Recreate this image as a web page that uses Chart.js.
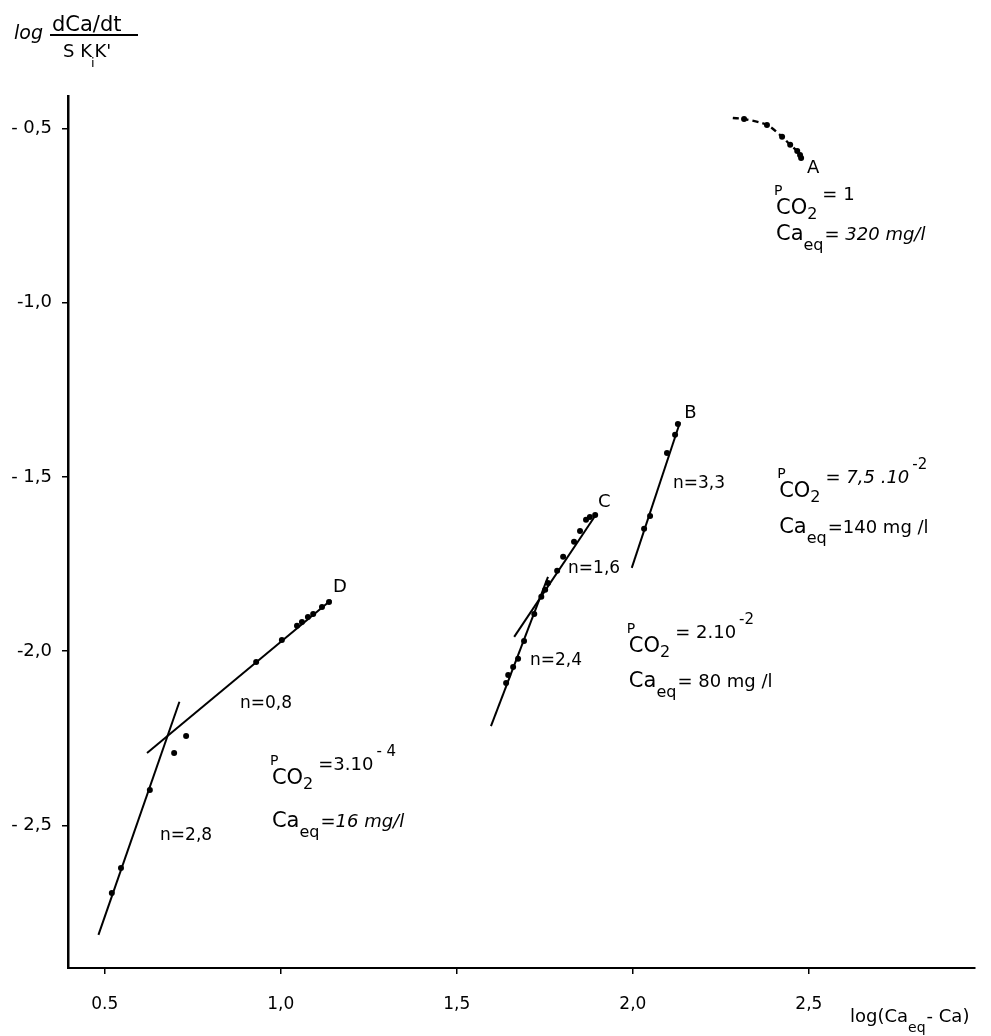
<!DOCTYPE html>
<html><head><meta charset="utf-8">
<script src="https://cdn.jsdelivr.net/npm/chart.js@4.4.0/dist/chart.umd.min.js"></script>
<style>html,body{margin:0;padding:0;background:#fff}#wrap{width:991px;height:1036px;position:relative}</style>
</head><body><div id="wrap"><canvas id="c" width="991" height="1036"></canvas></div>
<script>
// ---- data ----
const xTicks = [0.5, 1.0, 1.5, 2.0, 2.5];
const xTickLabels = ['0.5', '1,0', '1,5', '2,0', '2,5'];
const yTicks = [-0.5, -1.0, -1.5, -2.0, -2.5];
const yTickLabels = ['- 0,5', '-1,0', '- 1,5', '-2,0', '- 2,5'];

// curve A (PCO2 = 1): dashed curve and its points
const curveAx = [2.284, 2.316, 2.381, 2.424, 2.447, 2.467, 2.475, 2.478];
const curveAy = [-0.470, -0.473, -0.490, -0.524, -0.547, -0.565, -0.576, -0.585];
const pointsAx = [2.316, 2.381, 2.424, 2.447, 2.467, 2.475, 2.478];
const pointsAy = [-0.473, -0.490, -0.524, -0.547, -0.565, -0.576, -0.585];

// B (PCO2 = 7,5.10^-2)
const pointsBx = [2.128, 2.120, 2.097, 2.049, 2.032];
const pointsBy = [-1.348, -1.379, -1.431, -1.612, -1.649];
const lineBx = [1.997, 2.134];
const lineBy = [-1.761, -1.343];

// C (PCO2 = 2.10^-2)
const pointsCx = [1.893, 1.878, 1.867, 1.850, 1.833, 1.802, 1.785, 1.759, 1.751, 1.740, 1.720, 1.691, 1.674, 1.660, 1.646, 1.640];
const pointsCy = [-1.609, -1.615, -1.623, -1.655, -1.686, -1.729, -1.769, -1.804, -1.824, -1.844, -1.893, -1.971, -2.022, -2.045, -2.068, -2.091];
const lineC16x = [1.663, 1.896];
const lineC16y = [-1.959, -1.607];
const lineC24x = [1.597, 1.759];
const lineC24y = [-2.215, -1.787];

// D (PCO2 = 3.10^-4)
const pointsDx = [1.137, 1.117, 1.092, 1.077, 1.060, 1.046, 1.003, 0.930, 0.731, 0.697, 0.628, 0.546, 0.520];
const pointsDy = [-1.859, -1.873, -1.893, -1.902, -1.916, -1.927, -1.968, -2.031, -2.243, -2.292, -2.398, -2.622, -2.694];
const lineD08x = [0.620, 1.143];
const lineD08y = [-2.292, -1.853];
const lineD28x = [0.482, 0.712];
const lineD28y = [-2.814, -2.145];

const zip = (xs, ys) => xs.map((x, i) => ({x: x, y: ys[i]}));

// ---- annotation texts (positions in data units) ----
const curveLetters = [
  {t: 'A', x: 2.495, y: -0.628},
  {t: 'B', x: 2.146, y: -1.331},
  {t: 'C', x: 1.901, y: -1.586},
  {t: 'D', x: 1.148, y: -1.830}
];
const slopeLabels = [
  {t: 'n=3,3', x: 2.114, y: -1.532},
  {t: 'n=1,6', x: 1.816, y: -1.775},
  {t: 'n=2,4', x: 1.708, y: -2.039},
  {t: 'n=0,8', x: 0.884, y: -2.163},
  {t: 'n=2,8', x: 0.657, y: -2.541}
];
const conditionBlocks = [
  {x: 2.401, y: -0.691, p: '= 1', pIt: false, exp: '', ca: '= 320 mg/l', caIt: true, caDy: 45},
  {x: 2.410, y: -1.503, p: '= 7,5 .10', pIt: true, exp: '-2', ca: '=140 mg /l', caIt: false, caDy: 55},
  {x: 1.983, y: -1.948, p: '= 2.10', pIt: false, exp: '-2', ca: '= 80 mg /l', caIt: false, caDy: 54},
  {x: 0.969, y: -2.326, p: '=3.10', pIt: false, exp: '- 4', ca: '=16 mg/l', caIt: true, caDy: 62}
];

const FONT = '"DejaVu Sans", sans-serif';

const textPlugin = {
  id: 'texts',
  afterDraw(chart) {
    const ctx = chart.ctx, xs = chart.scales.x, ys = chart.scales.y;
    const px = v => xs.getPixelForValue(v), py = v => ys.getPixelForValue(v);
    ctx.save();
    ctx.fillStyle = '#000';
    ctx.textBaseline = 'alphabetic';
    ctx.textAlign = 'left';
    const put = (t, x, y, size, it) => { ctx.font = (it ? 'italic ' : '') + size + 'px ' + FONT; ctx.fillText(t, x, y); return x + ctx.measureText(t).width; };

    curveLetters.forEach(l => put(l.t, px(l.x), py(l.y), 18));
    slopeLabels.forEach(l => put(l.t, px(l.x), py(l.y), 17));

    conditionBlocks.forEach(b => {
      const x0 = px(b.x), y0 = py(b.y);
      put('P', x0, y0, 14);
      let x = put('CO', x0 + 2, y0 + 19, 21);
      x = put('2', x, y0 + 24, 16);
      x = put(b.p, x + 5, y0 + 5, 18, b.pIt);
      if (b.exp) put(b.exp, x + 3, y0 - 9, 15);
      let cx = put('Ca', x0 + 2, y0 + b.caDy, 21);
      cx = put('eq', cx, y0 + b.caDy + 10, 16);
      put(b.ca, cx + 1, y0 + b.caDy, 18, b.caIt);
    });

    // y-axis title: log (dCa/dt)/(S K_i K')
    put('log', 14, 39, 19, true);
    put('dCa/dt', 52, 31, 21);
    ctx.fillRect(50, 34, 88, 2);
    let dx = put('S K', 63, 57, 18);
    dx = put('i', dx - 1, 67, 13);
    put("K'", dx, 57, 18);

    // x-axis title: log(Ca_eq - Ca)
    let tx = put('log(Ca', 850, 1022, 18);
    tx = put('eq', tx, 1032, 14);
    put('- Ca)', tx + 1, 1022, 18);
    ctx.restore();
  }
};

const lineDs = (xs, ys) => ({data: zip(xs, ys), showLine: true, borderColor: '#000', borderWidth: 2, pointRadius: 0, fill: false});
const ptDs = (xs, ys) => ({data: zip(xs, ys), showLine: false, pointRadius: 3, pointBackgroundColor: '#000', pointBorderColor: '#000', pointBorderWidth: 0});

new Chart(document.getElementById('c'), {
  type: 'scatter',
  data: {
    datasets: [
      Object.assign(lineDs(curveAx, curveAy), {borderDash: [6, 4], borderWidth: 2.4, tension: 0.3}),
      ptDs(pointsAx, pointsAy),
      lineDs(lineBx, lineBy), ptDs(pointsBx, pointsBy),
      lineDs(lineC16x, lineC16y), lineDs(lineC24x, lineC24y), ptDs(pointsCx, pointsCy),
      lineDs(lineD08x, lineD08y), lineDs(lineD28x, lineD28y), ptDs(pointsDx, pointsDy)
    ]
  },
  options: {
    responsive: false, animation: false, devicePixelRatio: 1,
    layout: {padding: {top: 96, right: 16, left: 0, bottom: 0}},
    plugins: {legend: {display: false}, tooltip: {enabled: false}},
    scales: {
      x: {
        type: 'linear', min: 0.3955, max: 2.972,
        afterBuildTicks: s => { s.ticks = xTicks.map(v => ({value: v})); },
        afterFit: s => { s.height = 68; },
        ticks: {callback: (v, i) => xTickLabels[i], color: '#000', font: {family: FONT, size: 17}, padding: 20, maxRotation: 0, autoSkip: false},
        grid: {drawOnChartArea: false, drawTicks: true, tickLength: 6, color: '#000', lineWidth: 1.5},
        border: {display: true, color: '#000', width: 2}
      },
      y: {
        type: 'linear', min: -2.909, max: -0.407,
        afterBuildTicks: s => { s.ticks = yTicks.map(v => ({value: v})); },
        afterFit: s => { s.width = 68; },
        ticks: {callback: (v, i) => yTickLabels[i], color: '#000', font: {family: FONT, size: 18}, padding: 10, autoSkip: false},
        grid: {drawOnChartArea: false, drawTicks: true, tickLength: 6, color: '#000', lineWidth: 1.5},
        border: {display: true, color: '#000', width: 2.5}
      }
    }
  },
  plugins: [textPlugin]
});
</script></body></html>
